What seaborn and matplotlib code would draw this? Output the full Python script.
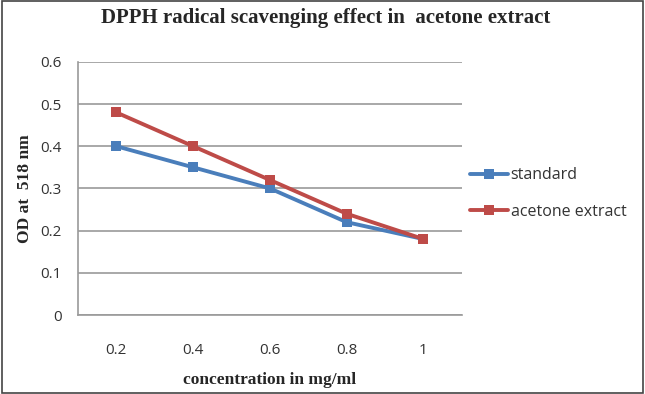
import matplotlib
matplotlib.use("Agg")
import matplotlib.pyplot as plt
import seaborn as sns
import pandas as pd
from matplotlib.patches import Rectangle

concentrations = ["0.2", "0.4", "0.6", "0.8", "1"]
standard = [0.40, 0.35, 0.30, 0.22, 0.18]
acetone_extract = [0.48, 0.40, 0.32, 0.24, 0.18]
series_names = ["standard", "acetone extract"]
y_ticks = [0, 0.1, 0.2, 0.3, 0.4, 0.5, 0.6]

df = pd.DataFrame({
    "conc": concentrations * 2,
    "od": standard + acetone_extract,
    "series": [series_names[0]] * 5 + [series_names[1]] * 5,
})

sns.set_style("white")
fig = plt.figure(figsize=(6.45, 3.94), dpi=100)
ax = fig.add_axes([0.121, 0.2005, 0.595, 0.6425])

palette = {"standard": "#4A7EBB", "acetone extract": "#BE4B48"}
sns.lineplot(data=df, x="conc", y="od", hue="series", palette=palette,
             marker="s", markersize=7, markeredgewidth=0, linewidth=2.8,
             sort=False, ax=ax, legend=True)

ax.set_xlim(-0.5, 4.5)
ax.set_ylim(0, 0.6)
ax.set_yticks(y_ticks)
ax.set_yticklabels([f"{t:g}" for t in y_ticks], fontsize=11, family="Open Sans", color="#333333")
ax.set_xticks(range(len(concentrations)))
ax.set_xticklabels(concentrations, fontsize=11, family="Open Sans", color="#333333")
ax.yaxis.grid(True, color="#9a9a9a", linewidth=1.2)
ax.set_axisbelow(True)
for s in ["top", "right"]:
    ax.spines[s].set_visible(False)
ax.spines["left"].set_color("#9a9a9a")
ax.spines["bottom"].set_color("#9a9a9a")
ax.spines["left"].set_linewidth(1.2)
ax.spines["bottom"].set_linewidth(1.2)
ax.tick_params(axis="y", length=0, pad=12)
ax.tick_params(axis="x", length=0, pad=20)

ax.set_xlabel("concentration in mg/ml", fontsize=12.5, fontweight="bold",
              family="Liberation Serif", labelpad=10)
ax.set_ylabel("OD at  518 nm", fontsize=12.5, fontweight="bold",
              family="Liberation Serif", labelpad=5)
fig.text(0.505, 0.955, "DPPH radical scavenging effect in  acetone extract",
         ha="center", va="center", fontsize=15, fontweight="bold",
         family="Liberation Serif")

leg = ax.legend(loc="center left", bbox_to_anchor=(1.0, 0.48), frameon=False,
                prop={"family": "Open Sans", "size": 11.5}, handlelength=2.4,
                handletextpad=0.15, labelspacing=1.3, borderaxespad=0.1)
for t in leg.get_texts():
    t.set_color("#333333")

fig.patches.append(Rectangle((0.003, 0.003), 0.994, 0.994, transform=fig.transFigure,
                             fill=False, edgecolor="#444444", linewidth=1.2))
fig.savefig("out.png", dpi=100)
